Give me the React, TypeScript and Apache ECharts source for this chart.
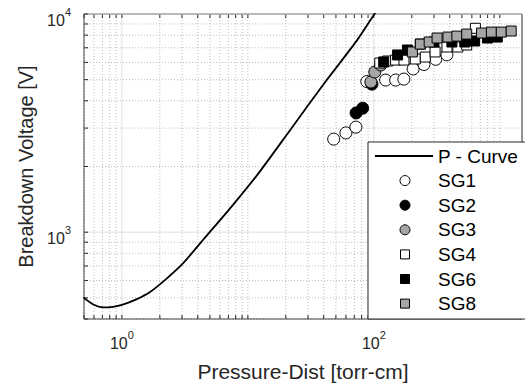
import React, { useEffect, useRef } from 'react';
import * as echarts from 'echarts';

// ---- Axis ranges / ticks ----
const X_MIN = 0.5;
const X_MAX = 1500;
const Y_MIN = 400;
const Y_MAX = 10000;
const xMajorTicks = [1, 100];
const yMajorTicks = [1000, 10000];
const xMinorTicks = [
  0.5, 0.6, 0.7, 0.8, 0.9,
  2, 3, 4, 5, 6, 7, 8, 9,
  10, 20, 30, 40, 50, 60, 70, 80, 90,
  200, 300, 400, 500, 600, 700, 800, 900,
  1000,
];
const yMinorTicks = [400, 500, 600, 700, 800, 900, 2000, 3000, 4000, 5000, 6000, 7000, 8000, 9000];

// ---- Data ----
const pCurve: [number, number][] = [
  [0.494, 502], [0.593, 466], [0.71, 452], [0.85, 455], [1.0, 464], [1.3, 492], [1.65, 529],
  [2.23, 608], [3.01, 713], [4.58, 946], [7.42, 1310], [12.0, 1845], [21.9, 2965],
  [40.0, 4775], [73.2, 7550], [101, 10000], [115, 11200],
];
const sg1: [number, number][] = [
  [48, 2670], [60, 2850], [72, 3030], [88, 4900], [124, 4980], [149, 4980], [173, 5030],
  [205, 5600], [250, 5870], [310, 6200], [380, 6500],
];
const sg2: [number, number][] = [[72.3, 3520], [81.5, 3700], [96.5, 4770]];
const sg3: [number, number][] = [[94.7, 4880], [101.8, 5420], [113.5, 5840]];
const sg4: [number, number][] = [
  [111.4, 5960], [128.8, 6090], [148.8, 6150], [173.4, 6150], [213.4, 6220], [255.9, 6350],
  [306.3, 6700], [380.5, 7060], [464.4, 7060], [546, 7210], [640, 8600],
];
const sg6: [number, number][] = [
  [119.7, 6030], [154.3, 6490], [184.8, 6840], [233.8, 7280], [300, 7440], [416.6, 7440],
  [527, 7440], [630.6, 7520], [798, 7760], [955, 7840],
];
const sg8: [number, number][] = [
  [202.3, 6700], [233.8, 7280], [274.9, 7440], [317.7, 7760], [387.4, 7840], [456, 7920],
  [546, 8090], [716, 8180], [857, 8260], [1027, 8260], [1231, 8356],
];

const seriesNames = ['P - Curve', 'SG1', 'SG2', 'SG3', 'SG4', 'SG6', 'SG8'];

const FONT = '"Liberation Sans", Arial, Helvetica, sans-serif';
const AX = '#262626';
const GREY = '#a6a6a6';

const isPow10 = (v: number) => Math.abs(Math.log10(v) - Math.round(Math.log10(v))) < 1e-6;

const tickLabel = (allowed: number[]) => (v: number) => {
  if (!isPow10(v)) return '';
  const e = Math.round(Math.log10(v));
  if (!allowed.some((a) => Math.round(Math.log10(a)) === e)) return '';
  return `{b|10}{s|${e}}`;
};

const rich = {
  b: { fontSize: 16, color: AX, fontFamily: FONT, padding: [6, 0, 0, 0], verticalAlign: 'bottom' },
  s: { fontSize: 11, color: AX, fontFamily: FONT, verticalAlign: 'top' },
};

const App: React.FC = () => {
  const ref = useRef<HTMLDivElement>(null);
  useEffect(() => {
    if (!ref.current) return;
    const chart = echarts.init(ref.current, undefined, { renderer: 'svg' });

    const vData = [
      ...xMinorTicks.map((v) => [v, 1000, 0]),
      ...xMajorTicks.map((v) => [v, 1000, 1]),
    ];
    const hData = [
      ...yMinorTicks.map((v) => [1, v, 0]),
      ...yMajorTicks.map((v) => [1, v, 1]),
    ];

    const gridRender = (vertical: boolean) => (params: any, api: any) => {
      const cs = params.coordSys;
      const kind = api.value(2);
      const style = kind === 1
        ? { stroke: '#dedede', lineWidth: 1 }
        : { stroke: '#bdbdbd', lineWidth: 1, lineDash: [1, 2] };
      const tickStyle = { stroke: AX, lineWidth: 1 };
      const tl = 4;
      if (vertical) {
        const px = api.coord([api.value(0), 1000])[0];
        return {
          type: 'group',
          children: [
            { type: 'line', shape: { x1: px, y1: cs.y, x2: px, y2: cs.y + cs.height }, style },
            { type: 'line', shape: { x1: px, y1: cs.y + cs.height, x2: px, y2: cs.y + cs.height - tl }, style: tickStyle },
            { type: 'line', shape: { x1: px, y1: cs.y, x2: px, y2: cs.y + tl }, style: tickStyle },
          ],
        };
      }
      const py = api.coord([1, api.value(1)])[1];
      return {
        type: 'group',
        children: [
          { type: 'line', shape: { x1: cs.x, y1: py, x2: cs.x + cs.width, y2: py }, style },
          { type: 'line', shape: { x1: cs.x, y1: py, x2: cs.x + tl, y2: py }, style: tickStyle },
        ],
      };
    };

    const marker = (name: string, data: [number, number][], symbol: string, color: string, size: number, z: number) => ({
      name,
      type: 'scatter',
      data,
      symbol,
      symbolSize: size,
      z,
      itemStyle: { color, borderColor: '#000', borderWidth: 1, opacity: 1 },
      emphasis: { disabled: true },
    });

    // ---- Legend (drawn as graphic to get MATLAB look) ----
    const LX = 368, LY = 142, LW = 175, LH = 177;
    const rowY0 = 156, rowStep = 24.6;
    const mx = 405, tx = 438;
    const ZL = 100;
    const legendMarks: any[] = [
      { type: 'rect', z: ZL, shape: { x: LX, y: LY, width: LW, height: LH }, style: { fill: '#fff', stroke: AX, lineWidth: 1 } },
      { type: 'line', z: ZL + 1, shape: { x1: 375, y1: rowY0, x2: 433, y2: rowY0 }, style: { stroke: '#000', lineWidth: 1.8 } },
    ];
    const legendSymbols: { kind: 'c' | 's'; fill: string }[] = [
      { kind: 'c', fill: '#fff' }, { kind: 'c', fill: '#000' }, { kind: 'c', fill: GREY },
      { kind: 's', fill: '#fff' }, { kind: 's', fill: '#000' }, { kind: 's', fill: GREY },
    ];
    legendSymbols.forEach((s, i) => {
      const cy = rowY0 + rowStep * (i + 1);
      if (s.kind === 'c') {
        legendMarks.push({ type: 'circle', z: ZL + 1, shape: { cx: mx, cy, r: 5 }, style: { fill: s.fill, stroke: '#000', lineWidth: 1 } });
      } else {
        legendMarks.push({ type: 'rect', z: ZL + 1, shape: { x: mx - 4.5, y: cy - 4.5, width: 9, height: 9 }, style: { fill: s.fill, stroke: '#000', lineWidth: 1 } });
      }
    });
    seriesNames.forEach((n, i) => {
      legendMarks.push({
        type: 'text', z: ZL + 1, x: tx, y: rowY0 + rowStep * i,
        style: { text: n, fill: '#000', font: `19px ${FONT}`, verticalAlign: 'middle', align: 'left' },
      });
    });

    chart.setOption({
      animation: false,
      backgroundColor: '#fff',
      grid: {
        left: 84, top: 14, right: -3, bottom: 68,
        show: true, borderColor: AX, borderWidth: 1, backgroundColor: 'transparent',
      },
      xAxis: {
        type: 'log', logBase: 10, min: X_MIN, max: X_MAX,
        axisLine: { show: false }, axisTick: { show: false }, splitLine: { show: false },
        axisLabel: { formatter: tickLabel(xMajorTicks), rich, margin: 10, showMinLabel: true, showMaxLabel: true, hideOverlap: false },
        name: 'Pressure-Dist [torr-cm]', nameLocation: 'middle', nameGap: 42,
        nameTextStyle: { fontSize: 21, color: AX, fontFamily: FONT },
      },
      yAxis: {
        type: 'log', logBase: 10, min: Y_MIN, max: Y_MAX,
        axisLine: { show: false }, axisTick: { show: false }, splitLine: { show: false },
        axisLabel: { formatter: tickLabel(yMajorTicks), rich, margin: 13, padding: [6, 0, 0, 0] },
        name: 'Breakdown Voltage [V]', nameLocation: 'middle', nameGap: 48,
        nameTextStyle: { fontSize: 20, color: AX, fontFamily: FONT },
      },
      graphic: legendMarks,
      series: [
        { type: 'custom', name: '_vgrid', data: vData, renderItem: gridRender(true), z: 1, silent: true, clip: false },
        { type: 'custom', name: '_hgrid', data: hData, renderItem: gridRender(false), z: 1, silent: true, clip: false },
        {
          name: seriesNames[0], type: 'line', data: pCurve, smooth: 0.25, showSymbol: false, symbol: 'none',
          lineStyle: { color: '#000', width: 1.8 }, itemStyle: { color: '#000' }, z: 2, clip: true,
          emphasis: { disabled: true },
        },
        marker(seriesNames[1], sg1, 'circle', '#ffffff', 12, 3),
        marker(seriesNames[2], sg2, 'circle', '#000000', 12, 4),
        marker(seriesNames[3], sg3, 'circle', GREY, 12, 5),
        marker(seriesNames[4], sg4, 'rect', '#ffffff', 10, 6),
        marker(seriesNames[5], sg6, 'rect', '#000000', 10, 7),
        marker(seriesNames[6], sg8, 'rect', GREY, 10, 8),
      ],
    });
    return () => chart.dispose();
  }, []);
  return <div ref={ref} style={{ position: 'fixed', left: 0, top: 0, width: 525, height: 387 }} />;
};

export default App;
